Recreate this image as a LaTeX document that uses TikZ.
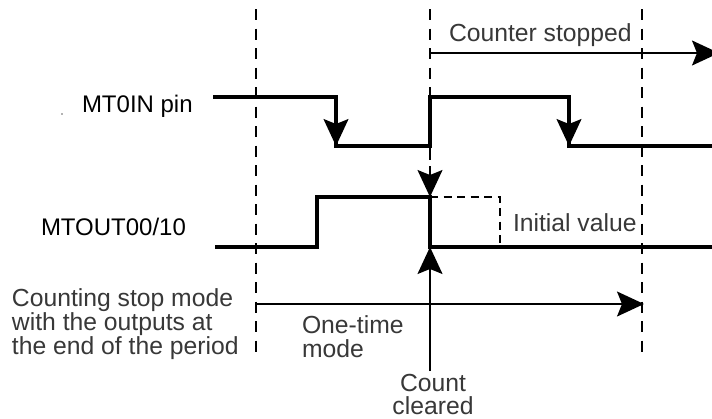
\documentclass[tikz,border=0pt]{standalone}
\usepackage{fontspec}
\setmainfont{Liberation Sans}
\usetikzlibrary{arrows.meta}
\tikzset{
  x=1pt,y=-1pt,
  sig/.style={line width=3.4pt,black,line cap=butt,line join=miter},
  thin line/.style={line width=1.6pt,black},
  guide/.style={line width=1.6pt,black,dash pattern=on 11pt off 8.5pt},
  level/.style={line width=1.4pt,black,dash pattern=on 8pt off 5.5pt},
  head/.style={-{Stealth[length=27pt,width=25pt,inset=5pt]}},
  lbl/.style={anchor=base west,inner sep=0pt,outer sep=0pt,font=\fontsize{24}{24}\selectfont,text=black},
  soft/.style={lbl,font=\fontsize{24.7}{24}\selectfont,text=black!78,align=left},
  softc/.style={soft,anchor=base,align=center}
}
\begin{document}
\begin{tikzpicture}
\path[use as bounding box,clip] (0,0) rectangle (712,418);
\fill[white] (0,0) rectangle (712,418);
% named coordinates
\coordinate (gAt) at (256,9);  \coordinate (gAb) at (256,359);
\coordinate (gBt) at (430,9);  \coordinate (gBb) at (430,97);
\coordinate (gCt) at (642,9);  \coordinate (gCb) at (642,359);
\coordinate (i0) at (213,97); \coordinate (i1) at (336,97); \coordinate (i2) at (336,146);
\coordinate (i3) at (430,146); \coordinate (i4) at (430,97); \coordinate (i5) at (569,97);
\coordinate (i6) at (569,146); \coordinate (i7) at (712,146);
\coordinate (o0) at (215,247); \coordinate (o1) at (317,247); \coordinate (o2) at (317,197);
\coordinate (o3) at (430,197); \coordinate (o4) at (430,247); \coordinate (o5) at (712,247);
\coordinate (cs0) at (430,53); \coordinate (cs1) at (719,53);
\coordinate (ot0) at (256,304); \coordinate (ot1) at (644,304);
\coordinate (cc) at (430,371);
\coordinate (trig) at (430,146);
\coordinate (iv0) at (500,197); \coordinate (iv1) at (500,243);
% guides
\draw[guide] (gAt) -- (gAb);
\draw[guide] (gBt) -- (gBb);
\draw[guide] (gCt) -- (gCb);
% signals
\draw[sig] (i0) -- (i1) -- (i2) -- (i3) -- (i4) -- (i5) -- (i6) -- (i7);
\draw[sig] (o0) -- (o1) -- (o2) -- (o3) -- (o4) -- (o5);
\draw[sig,line width=1.6pt,head] (i1) ++(0,4) -- (i2);
\draw[sig,line width=1.6pt,head] (i5) ++(0,4) -- (i6);
% thin arrows
\draw[thin line,head] (cs0) -- (cs1);
\draw[thin line,head] (ot0) -- (ot1);
\draw[thin line,head] (cc) -- (o4);
\draw[thin line] (trig) -- (430,160);
\draw[thin line,head] (430,166) -- (o3);
% initial value level
\draw[level] (o3) -- (iv0) -- (iv1);
% stray dot
\fill[black!60] (62,114) circle (0.8);
% labels
\node[lbl] (inpin) at (82,112) {MT0IN pin};
\node[lbl] (outpin) at (41,235) {MTOUT00/10};
\node[soft] (stopped) at (449,41) {Counter stopped};
\node[soft] (initial) at (513,231) {Initial value};
\node[soft] (mode1) at (12,306) {Counting stop mode};
\node[soft] (mode2) at (12,330) {with the outputs at};
\node[soft] (mode3) at (12,354) {the end of the period};
\node[soft] (one1) at (302,333) {One-time};
\node[soft] (one2) at (302,357) {mode};
\node[softc] (count1) at (433,391) {Count};
\node[softc] (count2) at (433,414) {cleared};
\end{tikzpicture}
\end{document}
